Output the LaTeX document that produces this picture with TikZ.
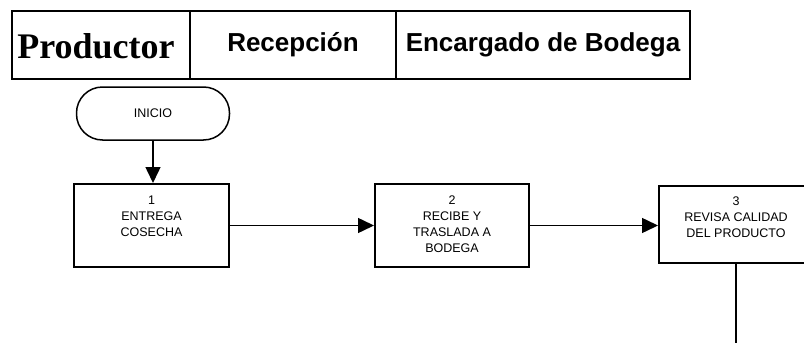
\documentclass[tikz,border=0pt]{standalone}
\usepackage{fontspec}
\setmainfont{Liberation Sans}
\newfontfamily\serifbold{Liberation Serif}
\usetikzlibrary{arrows.meta}
\begin{document}
\begin{tikzpicture}[x=1pt,y=-1pt,
  cell/.style={draw,line width=2pt,inner sep=0pt,minimum height=68pt},
  hsans/.style={font=\fontsize{26}{30}\selectfont\bfseries},
  boxst/.style={draw,line width=2pt,inner sep=0pt},
  txt/.style={font=\fontsize{12.5}{16}\selectfont,align=center,inner sep=0pt},
  conn/.style={line width=1.5pt},
  arr/.style={conn,-{Triangle[length=16pt,width=15pt]}}]
\useasboundingbox (0,0) rectangle (804,343);
\clip (0,0) rectangle (804,343);
% header
\node[cell,minimum width=178pt] (h1) at (101,45) {};
\node[font=\serifbold\fontsize{36}{40}\selectfont\bfseries,inner sep=0pt] (t1) at (96,46) {Productor};
\node[cell,minimum width=206pt,hsans] (h2) at (293,45) {Recepción};
\node[cell,minimum width=294pt,hsans] (h3) at (543,45) {Encargado de Bodega};
% start
\node[draw,line width=1.5pt,rounded corners=26pt,minimum width=153pt,minimum height=53pt,txt] (ini) at (153,113.5) {INICIO};
% boxes
\node[boxst,minimum width=155pt,minimum height=83pt] (b1) at (151.5,225.5) {};
\node[txt,anchor=north] (t1b) at ([yshift=-13pt]b1.north) {1\\ENTREGA\\COSECHA};
\node[boxst,minimum width=154pt,minimum height=83pt] (b2) at (452,225.5) {};
\node[txt,anchor=north] (t2b) at ([yshift=-13pt]b2.north) {2\\RECIBE Y\\TRASLADA A\\BODEGA};
\node[boxst,minimum width=154pt,minimum height=77pt] (b3) at (736,224.5) {};
\node[txt,anchor=north] (t3b) at ([yshift=-12pt]b3.north) {3\\REVISA CALIDAD\\DEL PRODUCTO};
\coordinate (endp) at (736,350);
% connectors
\draw[arr] (ini.south) -- (ini.south |- b1.north);
\draw[arr] (b1.east) -- (b2.west);
\draw[arr] (b2.east) -- (b2.east -| b3.west);
\draw[conn] (b3.south) -- (endp);
\end{tikzpicture}
\end{document}
